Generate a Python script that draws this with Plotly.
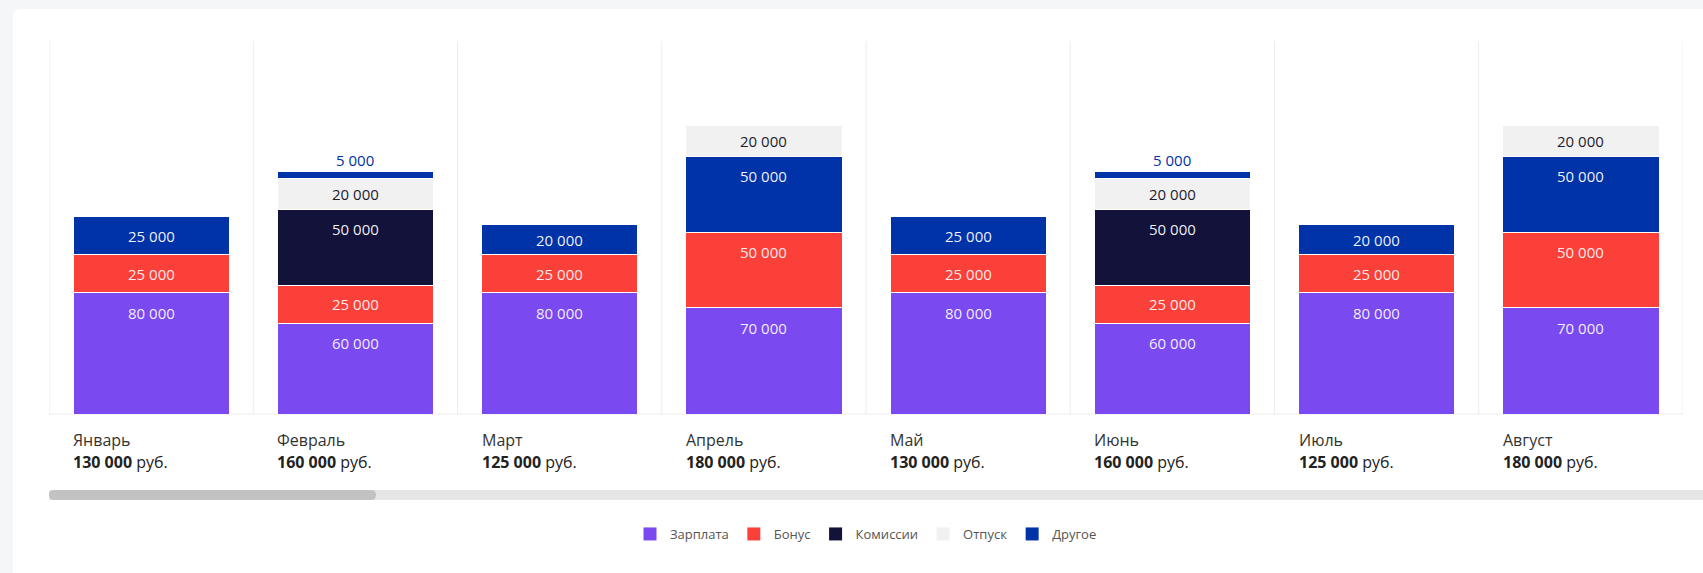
import plotly.graph_objects as go

# ---------------- data ----------------
months = ["Январь", "Февраль", "Март", "Апрель", "Май", "Июнь", "Июль", "Август"]
totals = [130000, 160000, 125000, 180000, 130000, 160000, 125000, 180000]

salary = [80000, 60000, 80000, 70000, 80000, 60000, 80000, 70000]
bonus = [25000, 25000, 25000, 50000, 25000, 25000, 25000, 50000]
commission = [None, 50000, None, None, None, 50000, None, None]
vacation = [None, 20000, None, 20000, None, 20000, None, 20000]
other = [25000, 5000, 20000, 50000, 25000, 5000, 20000, 50000]
# whether "Другое" sits above "Отпуск" in the stack for that month
other_on_top = [False, True, False, False, False, True, False, False]

legend_order = ["Зарплата", "Бонус", "Комиссии", "Отпуск", "Другое"]
colors = {
    "Зарплата": "#7a4af0",
    "Бонус": "#fa4039",
    "Комиссии": "#12123a",
    "Отпуск": "#f1f1f1",
    "Другое": "#0032a8",
}
text_colors = {
    "Зарплата": "rgba(255,255,255,0.92)",
    "Бонус": "rgba(255,255,255,0.92)",
    "Комиссии": "rgba(255,255,255,0.95)",
    "Отпуск": "#1c1c2e",
    "Другое": "rgba(255,255,255,0.95)",
}

# ---------------- layout constants ----------------
W, H = 1703, 573
ML, MR, MT, MB = 49, 20, 41, 159
PW = W - ML - MR
PH = H - MT - MB
BAR_W = 0.765
Y_MAX = 246000
FONT = "Open Sans"
PAGE_BG = "#f5f6f8"


def fmt(v):
    return f"{v:,}".replace(",", " ")


def px_x(p):
    return (p - ML) / PW


def px_y(p):
    return (H - MB - p) / PH


def rounded_path(x0, y0, x1, y1, r):
    def P(x, y):
        return f"{px_x(x):.5f},{px_y(y):.5f}"
    return (f"M {P(x0 + r, y0)} L {P(x1 - r, y0)} Q {P(x1, y0)} {P(x1, y0 + r)} "
            f"L {P(x1, y1 - r)} Q {P(x1, y1)} {P(x1 - r, y1)} "
            f"L {P(x0 + r, y1)} Q {P(x0, y1)} {P(x0, y1 - r)} "
            f"L {P(x0, y0 + r)} Q {P(x0, y0)} {P(x0 + r, y0)} Z")


other_below = [None if top else v for v, top in zip(other, other_on_top)]
other_above = [v if top else None for v, top in zip(other, other_on_top)]

# stacking order (bottom -> top)
stack = [
    ("Зарплата", salary),
    ("Бонус", bonus),
    ("Комиссии", commission),
    ("Другое", other_below),
    ("Отпуск", vacation),
    ("Другое", other_above),
]

fig = go.Figure()
for name, vals in stack:
    fig.add_trace(go.Bar(
        name=name, x=months, y=vals,
        marker=dict(color=colors[name], line=dict(color="#ffffff", width=1)),
        legendgroup=name, showlegend=False, hoverinfo="skip",
    ))

# legend entries (square swatches)
for name in legend_order:
    fig.add_trace(go.Scatter(
        name=name, x=[None], y=[None], mode="markers",
        marker=dict(symbol="square", size=13, color=colors[name]),
        legendgroup=name, showlegend=True, hoverinfo="skip",
    ))

annotations = []
# value labels inside each segment (near its top)
k = PH / Y_MAX
base = [0] * len(months)
for name, vals in stack:
    for i, v in enumerate(vals):
        if not v:
            continue
        top = base[i] + v
        seg_px = v * k
        if seg_px >= 22:
            ys, col = -min(20, seg_px / 2), text_colors[name]
        else:
            ys, col = 11, colors[name]
        annotations.append(dict(x=i, y=top, xref="x", yref="y", yshift=ys,
                                xanchor="center", yanchor="middle",
                                text=fmt(v), showarrow=False,
                                font=dict(family=FONT, size=15, color=col)))
        base[i] = top

# month + total labels under each bar, left-aligned with the bar
for i, (m, t) in enumerate(zip(months, totals)):
    annotations.append(dict(x=i - BAR_W / 2, y=0, xref="x", yref="paper",
                            xanchor="left", yanchor="middle", xshift=-2, yshift=-26,
                            text=m, showarrow=False,
                            font=dict(family=FONT, size=16, color="#333333")))
    annotations.append(dict(x=i - BAR_W / 2, y=0, xref="x", yref="paper",
                            xanchor="left", yanchor="middle", xshift=-2, yshift=-48,
                            text=f"<b>{fmt(t)}</b> руб.", showarrow=False,
                            font=dict(family=FONT, size=16, color="#222222")))

shapes = []
# white card
shapes.append(dict(type="path", xref="paper", yref="paper", layer="below",
                   path=rounded_path(13, 9, W + 20, H + 20, 8),
                   fillcolor="#ffffff", line=dict(width=0)))
# column separators
n = len(months)
for i in range(n + 1):
    shapes.append(dict(type="line", xref="x", yref="paper", layer="below",
                       x0=i - 0.5, x1=i - 0.5, y0=0, y1=1,
                       line=dict(color="#ededed", width=1)))
# baseline
shapes.append(dict(type="line", xref="x", yref="paper", layer="below",
                   x0=-0.5, x1=n - 0.5, y0=0, y1=0,
                   line=dict(color="#ededed", width=1)))
# scrollbar track & thumb
shapes.append(dict(type="path", xref="paper", yref="paper", layer="above",
                   path=rounded_path(49, 490, W + 10, 500, 0),
                   fillcolor="#e6e6e6", line=dict(width=0)))
shapes.append(dict(type="path", xref="paper", yref="paper", layer="above",
                   path=rounded_path(49, 490, 376, 500, 5),
                   fillcolor="#c2c2c2", line=dict(width=0)))

fig.update_layout(
    width=W, height=H,
    margin=dict(l=ML, r=MR, t=MT, b=MB, pad=0),
    barmode="stack",
    bargap=1 - BAR_W,
    paper_bgcolor=PAGE_BG,
    plot_bgcolor="rgba(0,0,0,0)",
    font=dict(family=FONT, size=12, color="#333333"),
    xaxis=dict(range=[-0.5, n - 0.5], showticklabels=False, showgrid=False,
               zeroline=False, showline=False, fixedrange=True),
    yaxis=dict(range=[0, Y_MAX], visible=False, showgrid=False, zeroline=False,
               fixedrange=True),
    legend=dict(orientation="h", x=0.5, xanchor="center", y=px_y(534),
                yanchor="middle", traceorder="normal", itemsizing="trace",
                font=dict(family=FONT, size=13, color="#555555"),
                bgcolor="rgba(0,0,0,0)"),
    shapes=shapes,
    annotations=annotations,
)

fig.write_html(
    "out.html",
    config={"displayModeBar": False},
    post_script=(f"document.body.style.margin='0';"
                 f"document.body.style.background='{PAGE_BG}';"
                 f"document.body.style.overflow='hidden';"),
)
